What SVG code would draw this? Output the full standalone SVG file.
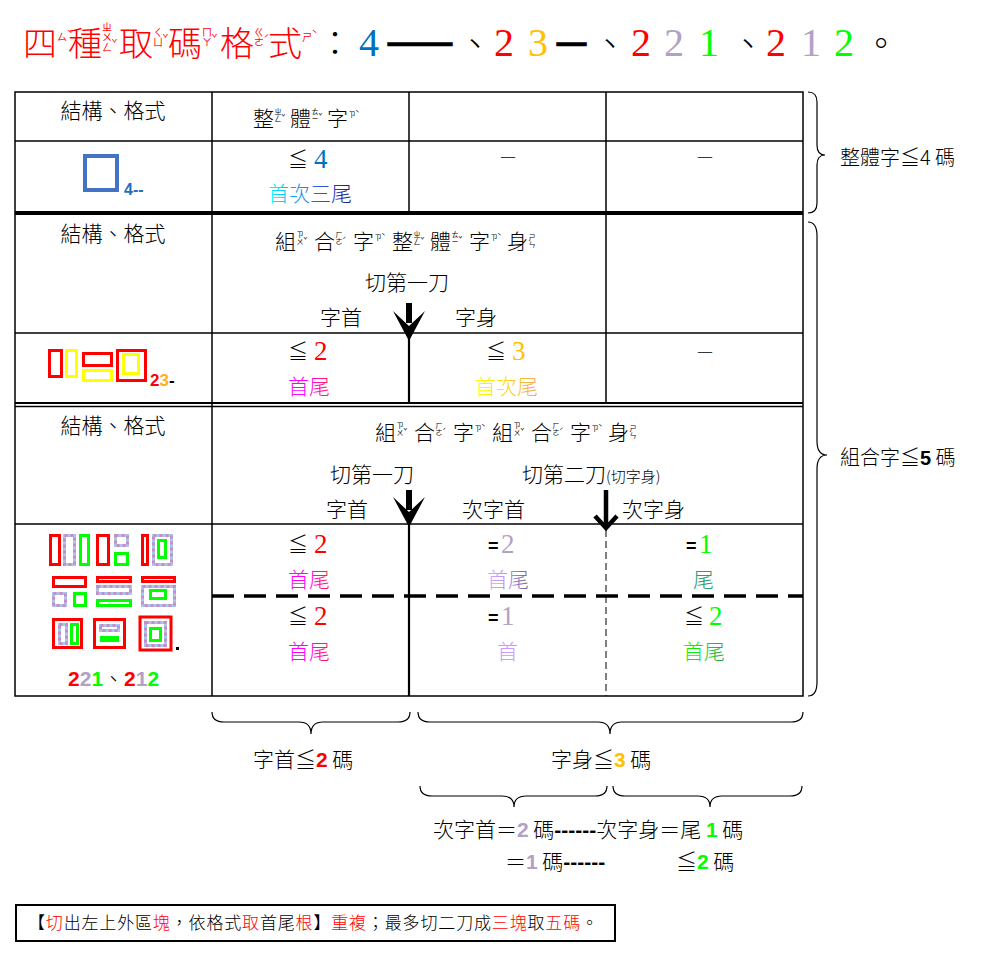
<svg xmlns="http://www.w3.org/2000/svg" width="1006" height="970" viewBox="0 0 1006 970">
<defs>
<linearGradient id="gMR" x1="0" x2="1" y1="0" y2="0"><stop offset="0" stop-color="#FF00FF"/><stop offset="0.5" stop-color="#FF00FF"/><stop offset="1" stop-color="#FF2040"/></linearGradient>
<linearGradient id="gYO" x1="0" x2="1" y1="0" y2="0"><stop offset="0" stop-color="#FFFF00"/><stop offset="0.4" stop-color="#FFE000"/><stop offset="1" stop-color="#F4A460"/></linearGradient>
<linearGradient id="gCN" x1="0" x2="1" y1="0" y2="0"><stop offset="0" stop-color="#00FFFF"/><stop offset="0.3" stop-color="#10A8F0"/><stop offset="0.65" stop-color="#3050E0"/><stop offset="1" stop-color="#10207A"/></linearGradient>
<linearGradient id="gLP" x1="0" x2="1" y1="0" y2="0"><stop offset="0" stop-color="#D9A8FF"/><stop offset="0.5" stop-color="#B890E8"/><stop offset="1" stop-color="#6E6490"/></linearGradient>
<linearGradient id="gGT" x1="0" x2="1" y1="0" y2="0"><stop offset="0" stop-color="#00FF00"/><stop offset="0.5" stop-color="#10E010"/><stop offset="1" stop-color="#339966"/></linearGradient>
<style>
.c{font-family:"Noto Sans CJK TC","Noto Sans CJK SC",sans-serif;font-weight:300}
.n{font-family:"Liberation Serif","Times New Roman",serif}
.s{font-family:"Liberation Sans",Arial,sans-serif}
.f21{font-size:21px}
.zy{font-size:7px;font-family:"Noto Sans CJK TC","Noto Sans CJK SC",sans-serif;writing-mode:vertical-rl;text-orientation:upright}
.zt{font-size:10px;font-family:"Noto Sans CJK TC","Noto Sans CJK SC",sans-serif;fill:#FF0000;writing-mode:vertical-rl;text-orientation:upright}
.ln{stroke:#000;stroke-width:1.5;fill:none}
.rd{fill:none;stroke:#FF0000;stroke-width:3}
.yl{fill:none;stroke:#FFFF00;stroke-width:3}
.gn{fill:none;stroke:#00FF00;stroke-width:3}
.d1{fill:none;stroke:#A9C6EE;stroke-width:3}
.d2{fill:none;stroke:#C58FC5;stroke-width:3;stroke-dasharray:3 3}
.br{fill:none;stroke:#000;stroke-width:1.2}
.red{fill:#FF0000}.lav{fill:#B2A1C7}.grn{fill:#00FF00}.org{fill:#FFC000}.blu{fill:#0070C0}
</style>
</defs>
<rect width="1006" height="970" fill="#fff"/>

<g id="title">
<text class="c" font-size="34" fill="#FF0000" y="56"><tspan x="23">四</tspan><tspan x="68">種</tspan><tspan x="119">取</tspan><tspan x="168">碼</tspan><tspan x="220">格</tspan><tspan x="268">式</tspan></text>
<text class="zt" x="62" y="32">ㄙˋ</text>
<text class="zt" x="107" y="22">ㄓㄨㄥˇ</text>
<text class="zt" x="158" y="27">ㄑㄩˇ</text>
<text class="zt" x="207" y="27">ㄇㄚˇ</text>
<text class="zt" x="259" y="27">ㄍㄜˊ</text>
<text class="zt" x="307" y="32">ㄕˋ</text>
<text class="c" font-size="34" y="56" x="318">：</text>
<text class="n" font-size="40" y="56"><tspan x="359" class="blu">4</tspan><tspan x="494" class="red">2</tspan><tspan x="528" fill="#FFC000">3</tspan><tspan x="631" class="red">2</tspan><tspan x="664" class="lav">2</tspan><tspan x="699" class="grn">1</tspan><tspan x="766" class="red">2</tspan><tspan x="801" class="lav">1</tspan><tspan x="834" class="grn">2</tspan></text>
<text class="c" font-size="32" y="53" x="387" stroke="#000" stroke-width="2.5" textLength="66" lengthAdjust="spacingAndGlyphs">——</text>
<text class="c" font-size="32" y="53" x="556" stroke="#000" stroke-width="2.5" textLength="31" lengthAdjust="spacingAndGlyphs">—</text>
<text class="c" font-size="34" y="56"><tspan x="458">、</tspan><tspan x="593">、</tspan><tspan x="731">、</tspan><tspan x="864">。</tspan></text>
</g>

<g id="table-lines">
<rect x="15" y="92" width="788" height="604" class="ln"/>
<line x1="15" y1="141" x2="803" y2="141" class="ln"/>
<line x1="15" y1="213" x2="803" y2="213" stroke="#000" stroke-width="4"/>
<line x1="15" y1="333" x2="803" y2="333" class="ln"/>
<line x1="15" y1="403" x2="803" y2="403" stroke="#000" stroke-width="2.2"/>
<line x1="15" y1="406.5" x2="803" y2="406.5" class="ln"/>
<line x1="15" y1="524" x2="803" y2="524" class="ln"/>
<line x1="212" y1="596" x2="803" y2="596" stroke="#000" stroke-width="3.5" stroke-dasharray="22 10"/>
<line x1="212" y1="92" x2="212" y2="696" class="ln"/>
<line x1="409" y1="92" x2="409" y2="213" class="ln"/>
<line x1="606" y1="92" x2="606" y2="403" class="ln"/>
<line x1="606" y1="530" x2="606" y2="696" stroke="#000" stroke-width="1" stroke-dasharray="7 4"/>
<line x1="409" y1="335" x2="409" y2="403" stroke="#000" stroke-width="2.2"/>
<line x1="409" y1="524" x2="409" y2="696" stroke="#000" stroke-width="2.2"/>
</g>

<g id="arrows">
<rect x="406" y="303" width="6" height="20"/>
<polygon points="409,341 393,311 409,326 425,311"/>
<rect x="406" y="490" width="6" height="20"/>
<polygon points="409,527 393,497 409,512 425,497"/>
<line x1="606" y1="490" x2="606" y2="527" stroke="#000" stroke-width="4.5"/>
<polyline points="595,516 606,528 617,516" fill="none" stroke="#000" stroke-width="4.5"/>
</g>

<g id="section1">
<text class="c f21" x="113" y="118" text-anchor="middle">結構、格式</text>
<text class="c f21" y="126"><tspan x="253">整</tspan><tspan x="290">體</tspan><tspan x="327">字</tspan></text>
<text class="zy" x="278" y="108">ㄓㄥˇ</text>
<text class="zy" x="315" y="108">ㄊㄧˇ</text>
<text class="zy" x="352" y="111">ㄗˋ</text>
<rect x="85" y="156" width="32" height="34" fill="none" stroke="#4472C4" stroke-width="4"/>
<text class="s" font-size="16" font-weight="bold" fill="#1F6FC0" x="124" y="195">4--</text>
<text class="c" font-size="20" x="288" y="167">≦</text>
<text class="n blu" font-size="27" x="314" y="168">4</text>
<text class="c f21" x="268" y="201" fill="url(#gCN)">首次三尾</text>
<text class="c" font-size="18" x="508" y="163" text-anchor="middle">—</text>
<text class="c" font-size="18" x="705" y="163" text-anchor="middle">—</text>
</g>

<g id="section2">
<text class="c f21" x="113" y="241" text-anchor="middle">結構、格式</text>
<text class="c f21" y="249"><tspan x="275">組</tspan><tspan x="314">合</tspan><tspan x="353">字</tspan><tspan x="392">整</tspan><tspan x="430">體</tspan><tspan x="469">字</tspan><tspan x="507">身</tspan></text>
<text class="zy" x="300" y="231">ㄗㄨˇ</text>
<text class="zy" x="339" y="231">ㄏㄜˊ</text>
<text class="zy" x="378" y="234">ㄗˋ</text>
<text class="zy" x="417" y="231">ㄓㄥˇ</text>
<text class="zy" x="455" y="231">ㄊㄧˇ</text>
<text class="zy" x="494" y="234">ㄗˋ</text>
<text class="zy" x="532" y="234">ㄕㄣ</text>
<text class="c f21" x="365" y="290">切第一刀</text>
<text class="c f21" x="320" y="325">字首</text>
<text class="c f21" x="455" y="325">字身</text>
<rect x="49.5" y="350.5" width="12" height="26" class="rd"/>
<rect x="66.5" y="350.5" width="10" height="26" class="yl"/>
<rect x="83.5" y="353.5" width="28" height="12" class="rd"/>
<rect x="83.5" y="370.5" width="28" height="10" class="yl"/>
<rect x="117.5" y="350.5" width="28" height="30" class="rd"/>
<rect x="123.5" y="354.5" width="15" height="19" class="yl"/>
<text class="s" font-size="17" font-weight="bold" x="150" y="386"><tspan class="red">2</tspan><tspan fill="#FFB020">3</tspan><tspan>-</tspan></text>
<text class="c" font-size="20" x="288" y="359">≦</text>
<text class="n red" font-size="27" x="314" y="360">2</text>
<text class="c f21" x="288" y="394" fill="url(#gMR)">首尾</text>
<text class="c" font-size="20" x="486" y="359">≦</text>
<text class="n" font-size="27" x="512" y="360" fill="#FFC000">3</text>
<text class="c f21" x="475" y="394" fill="url(#gYO)">首次尾</text>
<text class="c" font-size="18" x="705" y="358" text-anchor="middle">—</text>
</g>

<g id="section3">
<text class="c f21" x="113" y="433" text-anchor="middle">結構、格式</text>
<text class="c f21" y="440"><tspan x="375">組</tspan><tspan x="414">合</tspan><tspan x="453">字</tspan><tspan x="492">組</tspan><tspan x="531">合</tspan><tspan x="570">字</tspan><tspan x="608">身</tspan></text>
<text class="zy" x="400" y="422">ㄗㄨˇ</text>
<text class="zy" x="439" y="422">ㄏㄜˊ</text>
<text class="zy" x="478" y="425">ㄗˋ</text>
<text class="zy" x="517" y="422">ㄗㄨˇ</text>
<text class="zy" x="556" y="422">ㄏㄜˊ</text>
<text class="zy" x="595" y="425">ㄗˋ</text>
<text class="zy" x="633" y="425">ㄕㄣ</text>
<text class="c f21" x="330" y="482">切第一刀</text>
<text class="c f21" x="522" y="482">切第二刀<tspan font-size="15">(切字身)</tspan></text>
<text class="c f21" x="326" y="517">字首</text>
<text class="c f21" x="462" y="517">次字首</text>
<text class="c f21" x="622" y="517">次字身</text>

<rect x="50.5" y="535.5" width="9" height="29" class="rd"/>
<rect x="64.5" y="535.5" width="10" height="29" class="d1"/><rect x="64.5" y="535.5" width="10" height="29" class="d2"/>
<rect x="80.5" y="535.5" width="8" height="29" class="gn"/>
<rect x="97.5" y="535.5" width="11" height="29" class="rd"/>
<rect x="115.5" y="535.5" width="12" height="10" class="d1"/><rect x="115.5" y="535.5" width="12" height="10" class="d2"/>
<rect x="115.5" y="553.5" width="12" height="11" class="gn"/>
<rect x="142.5" y="535.5" width="5" height="29" class="rd"/>
<rect x="153.5" y="535.5" width="18" height="29" class="d1"/><rect x="153.5" y="535.5" width="18" height="29" class="d2"/>
<rect x="158.5" y="540.5" width="7" height="17" class="gn"/>

<rect x="53.5" y="577.5" width="32" height="9" class="rd"/>
<rect x="53.5" y="593.5" width="12" height="12" class="d1"/><rect x="53.5" y="593.5" width="12" height="12" class="d2"/>
<rect x="74.5" y="593.5" width="11" height="12" class="gn"/>
<rect x="97.5" y="577.5" width="33" height="4" class="rd"/>
<rect x="97.5" y="586.5" width="33" height="7" class="d1"/><rect x="97.5" y="586.5" width="33" height="7" class="d2"/>
<rect x="97.5" y="600.5" width="33" height="5" class="gn"/>
<rect x="142.5" y="577.5" width="32" height="4" class="rd"/>
<rect x="142.5" y="586.5" width="32" height="19" class="d1"/><rect x="142.5" y="586.5" width="32" height="19" class="d2"/>
<rect x="150.5" y="590.5" width="15" height="8" class="gn"/>

<rect x="53.5" y="619.5" width="28" height="28" class="rd"/>
<rect x="59.5" y="624.5" width="7" height="19" class="d1"/><rect x="59.5" y="624.5" width="7" height="19" class="d2"/>
<rect x="71.5" y="624.5" width="6" height="19" class="gn"/>
<rect x="94.5" y="619.5" width="30" height="28" class="rd"/>
<rect x="100.5" y="625.5" width="18" height="5" class="d1"/><rect x="100.5" y="625.5" width="18" height="5" class="d2"/>
<rect x="101.5" y="637.5" width="16" height="3" class="gn"/>
<rect x="140" y="617" width="31" height="33" class="rd" stroke-width="4"/>
<rect x="145.5" y="622.5" width="20" height="23" class="d1"/><rect x="145.5" y="622.5" width="20" height="23" class="d2"/>
<rect x="150.5" y="628.5" width="10" height="12" class="gn"/>
<rect x="176" y="647" width="3" height="3"/>
<text class="s" font-size="21" font-weight="bold" x="68" y="686"><tspan class="red">2</tspan><tspan class="lav">2</tspan><tspan class="grn">1</tspan><tspan class="c" font-weight="normal">、</tspan><tspan class="red">2</tspan><tspan class="lav">1</tspan><tspan class="grn">2</tspan></text>

<text class="c" font-size="20" x="288" y="552">≦</text>
<text class="n red" font-size="27" x="314" y="553">2</text>
<text class="c f21" x="288" y="587" fill="url(#gMR)">首尾</text>
<text class="s" font-size="18" font-weight="bold" x="488" y="552">=</text>
<text class="n lav" font-size="27" x="501" y="553">2</text>
<text class="c f21" x="487" y="587" fill="url(#gLP)">首尾</text>
<text class="s" font-size="18" font-weight="bold" x="686" y="552">=</text>
<text class="n grn" font-size="27" x="699" y="553">1</text>
<text class="c f21" x="693" y="587" fill="#2E9A6A">尾</text>

<text class="c" font-size="20" x="288" y="624">≦</text>
<text class="n red" font-size="27" x="314" y="625">2</text>
<text class="c f21" x="288" y="659" fill="url(#gMR)">首尾</text>
<text class="s" font-size="18" font-weight="bold" x="488" y="624">=</text>
<text class="n lav" font-size="27" x="501" y="625">1</text>
<text class="c f21" x="497" y="659" fill="#CC99FF">首</text>
<text class="c" font-size="20" x="684" y="624">≦</text>
<text class="n grn" font-size="27" x="709" y="625">2</text>
<text class="c f21" x="683" y="659" fill="url(#gGT)">首尾</text>
</g>

<g id="braces">
<path class="br" d="M808,92 Q817,92 817,102 L817,145 Q817,155 825,155 Q817,155 817,165 L817,203 Q817,213 808,213"/>
<path class="br" d="M808,222 Q817,222 817,236 L817,441 Q817,455 827,455 Q817,455 817,469 L817,682 Q817,696 808,696"/>
<path class="br" d="M212,712 Q212,722 224,722 L299,722 Q311,722 311,734 Q311,722 323,722 L398,722 Q410,722 410,712"/>
<path class="br" d="M418,712 Q418,722 430,722 L598,722 Q610,722 610,734 Q610,722 622,722 L791,722 Q803,722 803,712"/>
<path class="br" d="M420,786 Q420,796 432,796 L502,796 Q514,796 514,807 Q514,796 526,796 L595,796 Q607,796 607,786"/>
<path class="br" d="M613,786 Q613,796 625,796 L698,796 Q710,796 710,807 Q710,796 722,796 L790,796 Q802,796 802,786"/>
</g>

<g id="labels">
<text class="c" font-size="20" x="840" y="165">整體字≦4 碼</text>
<text class="c" font-size="20" x="840" y="465">組合字≦<tspan class="s" font-weight="bold">5</tspan> 碼</text>
<text class="c f21" x="253" y="767">字首≦<tspan class="s red" font-weight="bold">2</tspan> 碼</text>
<text class="c f21" x="551" y="767">字身≦<tspan class="s org" font-weight="bold">3</tspan> 碼</text>
<text class="c f21" x="433" y="837">次字首＝<tspan class="s lav" font-weight="bold">2</tspan> 碼<tspan class="s" font-weight="bold">------</tspan>次字身＝尾 <tspan class="s grn" font-weight="bold">1</tspan> 碼</text>
<text class="c f21" x="505" y="869">＝<tspan class="s lav" font-weight="bold">1</tspan> 碼<tspan class="s" font-weight="bold">------</tspan></text>
<text class="c f21" x="676" y="869">≦<tspan class="s grn" font-weight="bold">2</tspan> 碼</text>
</g>

<g id="note">
<rect x="16" y="905" width="599" height="36" fill="none" stroke="#000" stroke-width="2"/>
<text class="c" font-size="17" font-weight="normal" x="28" y="929" textLength="570" lengthAdjust="spacing">【<tspan class="red">切</tspan>出左上外區<tspan class="red">塊</tspan>，依格式<tspan class="red">取</tspan>首尾<tspan class="red">根</tspan>】<tspan class="red">重複</tspan>；最多切二刀成<tspan class="red">三塊</tspan>取<tspan class="red">五碼</tspan>。</text>
</g>
</svg>
